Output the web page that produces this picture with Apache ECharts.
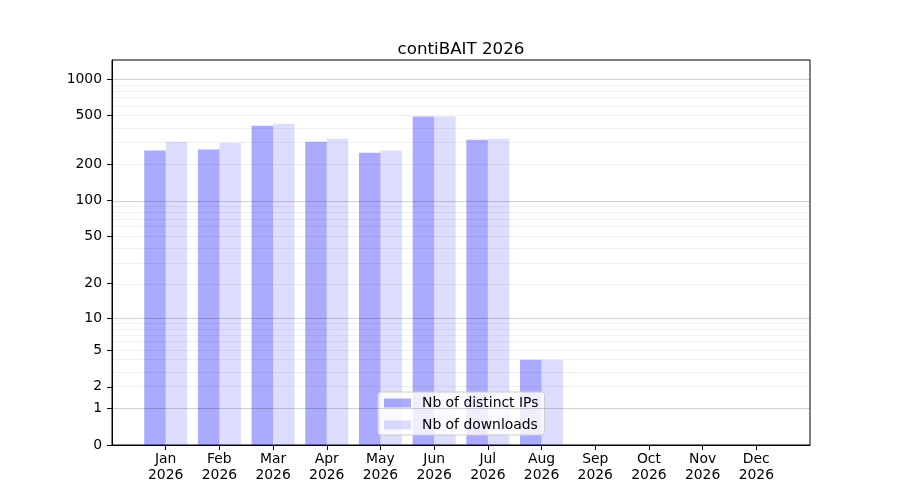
<!DOCTYPE html>
<html>
<head>
<meta charset="utf-8">
<script src="https://cdn.jsdelivr.net/npm/echarts@6/dist/echarts.min.js"></script>
<style>
  html, body { margin: 0; padding: 0; background: #fff; }
  #myChart { width: 900px; height: 500px; }
</style>
</head>
<body>
<div id="myChart"></div>
<script>
const months = ['Jan', 'Feb', 'Mar', 'Apr', 'May', 'Jun', 'Jul', 'Aug', 'Sep', 'Oct', 'Nov', 'Dec']
const distinctIps = [258, 263, 413, 305, 248, 492, 317, 4, 0, 0, 0, 0]
const downloads = [305, 299, 429, 323, 258, 492, 323, 4, 0, 0, 0, 0]
const yTicks = [0, 1, 2, 5, 10, 20, 50, 100, 200, 500, 1000]
const majorGrid = [1, 10, 100, 1000]
const minorGrid = [2, 3, 4, 5, 6, 7, 8, 9, 20, 30, 40, 50, 60, 70, 80, 90, 200, 300, 400, 500, 600, 700, 800, 900]
const yTop = 1431

// axis is log10(v + 1), like the original function scale
const fwd = v => Math.log10(v + 1)
const inv = t => Math.round(Math.pow(10, t) - 1)

// pad one empty slot each side so the months sit like the original xlim
const cats = [''].concat(months, [''])
const pad = arr => [null].concat(arr.map(fwd), [null])

const gridLine = (vals, color) => ({
  type: 'line',
  data: cats.map(() => null),
  showSymbol: false,
  silent: true,
  z: 3,
  lineStyle: { opacity: 0 },
  markLine: {
    silent: true,
    symbol: 'none',
    animation: false,
    label: { show: false },
    lineStyle: { color: color, width: 0.8, type: 'solid' },
    data: vals.map(v => ({ yAxis: fwd(v) }))
  }
})

const FONT = 'DejaVu Sans'

const option = {
  animation: false,
  title: {
    text: 'contiBAIT 2026',
    left: 456,
    top: 36,
    textAlign: 'center',
    textStyle: { fontFamily: FONT, fontSize: 16.7, fontWeight: 'normal', color: '#000' }
  },
  legend: {
    data: ['Nb of distinct IPs', 'Nb of downloads'],
    orient: 'vertical',
    left: 378,
    top: 392,
    icon: 'rect',
    itemWidth: 27,
    itemHeight: 9,
    itemGap: 8,
    padding: [4, 6, 3, 6],
    backgroundColor: 'rgba(255,255,255,0.8)',
    borderColor: '#cccccc',
    borderWidth: 1,
    borderRadius: 3,
    textStyle: { fontFamily: FONT, fontSize: 13.9, color: '#000', padding: [0, 0, 0, 6] }
  },
  grid: {
    left: 112, right: 90, top: 60, bottom: 55,
    show: true, borderColor: '#000', borderWidth: 1, backgroundColor: 'transparent'
  },
  xAxis: {
    type: 'category',
    data: cats,
    boundaryGap: false,
    axisLine: { lineStyle: { color: '#000', width: 1 } },
    axisTick: { interval: (i, v) => v !== '', length: 5, lineStyle: { color: '#000' } },
    axisLabel: {
      interval: (i, v) => v !== '',
      formatter: v => v + '\n2026',
      margin: 6,
      lineHeight: 16,
      fontFamily: FONT,
      fontSize: 13.9,
      color: '#000'
    },
    splitLine: { show: false }
  },
  yAxis: {
    type: 'value',
    min: 0,
    max: fwd(yTop),
    axisLine: { show: true, lineStyle: { color: '#000', width: 1 } },
    axisTick: { show: true, length: 5, customValues: yTicks.map(fwd), lineStyle: { color: '#000' } },
    axisLabel: {
      customValues: yTicks.map(fwd),
      formatter: t => String(inv(t)),
      margin: 10,
      fontFamily: FONT,
      fontSize: 13.9,
      color: '#000'
    },
    splitLine: { show: false }
  },
  series: [
    {
      name: 'Nb of distinct IPs',
      type: 'bar',
      data: pad(distinctIps),
      barWidth: 21.5,
      barGap: '0%',
      z: 2,
      itemStyle: { color: 'rgba(0,0,255,0.333)' }
    },
    {
      name: 'Nb of downloads',
      type: 'bar',
      data: pad(downloads),
      barWidth: 21.5,
      barGap: '0%',
      z: 2,
      itemStyle: { color: 'rgba(0,0,255,0.135)' }
    },
    gridLine(minorGrid, 'rgba(0,0,0,0.08)'),
    gridLine(majorGrid, 'rgba(0,0,0,0.23)')
  ]
}

const myChart = echarts.init(document.getElementById('myChart'))
myChart.setOption(option)
</script>
</body>
</html>
